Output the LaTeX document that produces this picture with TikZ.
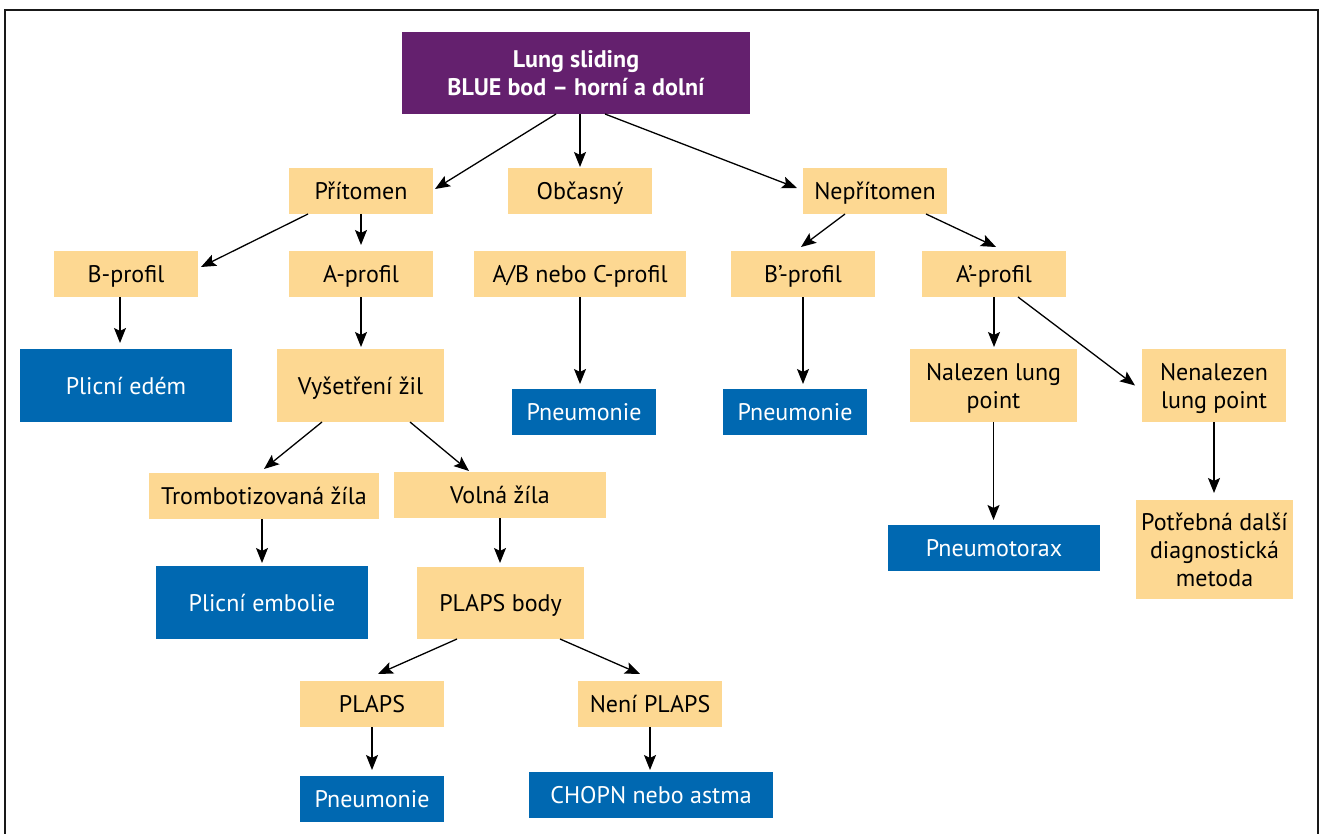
\documentclass[tikz,border=0pt]{standalone}
\usepackage{fontspec}
\setmainfont{PT Sans}
\usetikzlibrary{arrows.meta,calc}
\definecolor{purp}{HTML}{64206E}
\definecolor{ylw}{HTML}{FDD892}
\definecolor{blu}{HTML}{0068B1}
\begin{document}
\begin{tikzpicture}[x=1pt,y=-1pt,
  box/.style={inner sep=0pt, outer sep=0pt, align=center, font=\fontsize{24}{28}\selectfont, text depth=0pt},
  one/.style={text height=17pt},
  ybox/.style={box, fill=ylw, text=black},
  bbox/.style={box, fill=blu, text=white},
  sz/.style 2 args={minimum width=#1pt, minimum height=#2pt},
  arr/.style={line width=1.3pt, -{Stealth[length=15pt,width=12pt,inset=3pt]}}]
\useasboundingbox (0,0) rectangle (1322,834);
\fill[white] (0,0) rectangle (1322,834);
\draw[line width=1.3pt, draw=black!90] (5,834) -- (5,10) -- (1318,10) -- (1318,834);

\node[box, fill=purp, text=white, font=\fontsize{24}{28}\selectfont\bfseries, sz={348}{82}] (top) at (576,73) {Lung sliding\\BLUE bod – horní a dolní};

\node[ybox, one, sz={144}{46}] (pritomen) at (361,191) {Přítomen};
\node[ybox, one, sz={144}{46}] (obc) at (580,191) {Občasný};
\node[ybox, one, sz={144}{46}] (nep) at (875,191) {Nepřítomen};

\node[ybox, one, sz={144}{46}] (bprof) at (126,274) {B-profil};
\node[ybox, one, sz={144}{46}] (aprof) at (361,274) {A-profil};
\node[ybox, one, sz={212}{46}] (ab) at (580,274) {A/B nebo C-profil};
\node[ybox, one, sz={144}{46}] (bp) at (803,274) {B’-profil};
\node[ybox, one, sz={144}{46}] (ap) at (994,274) {A’-profil};

\node[bbox, one, sz={212}{73}] (edem) at (126,385.5) {Plicní edém};
\node[ybox, one, sz={167}{73}] (vys) at (360.5,385.5) {Vyšetření žil};
\node[bbox, one, sz={144}{46}] (pn1) at (584,412) {Pneumonie};
\node[bbox, one, sz={144}{46}] (pn2) at (795,412) {Pneumonie};
\node[ybox, sz={167}{73}] (nal) at (993.5,385.5) {Nalezen lung\\point};
\node[ybox, sz={144}{73}] (nenal) at (1214,385.5) {Nenalezen\\lung point};

\node[ybox, one, sz={230}{46}] (tromb) at (264,496) {Trombotizovaná žíla};
\node[ybox, one, sz={212}{46}] (volna) at (500,495) {Volná žíla};
\node[bbox, one, sz={212}{46}] (ptx) at (994,548) {Pneumotorax};
\node[ybox, sz={157}{99}] (potr) at (1214.5,549.5) {Potřebná další\\diagnostická\\metoda};

\node[bbox, one, sz={212}{73}] (emb) at (262,602.5) {Plicní embolie};
\node[ybox, one, sz={167}{72}] (pb) at (500.5,603) {PLAPS body};

\node[ybox, one, sz={144}{46}] (plaps) at (372,704) {PLAPS};
\node[ybox, one, sz={144}{46}] (neni) at (650,704) {Není PLAPS};

\node[bbox, one, sz={144}{46}] (pn3) at (372,799) {Pneumonie};
\node[bbox, one, sz={244}{46}] (chopn) at (651,795) {CHOPN nebo astma};

% connectors
\draw[arr] ([xshift=-20pt]top.south) -- ([xshift=2pt,yshift=2pt]pritomen.east);
\draw[arr, shorten >=1pt] (top.south -| obc.north) -- (obc.north);
\draw[arr] ([xshift=29pt]top.south) -- ([xshift=-6pt,yshift=3pt]nep.west);

\draw[arr] ([xshift=-53pt]pritomen.south) -- ([xshift=3pt,yshift=7pt]bprof.east);
\draw[arr] (pritomen.south) -- ([yshift=6pt]aprof.north);
\draw[arr] ([xshift=-30pt]nep.south) -- ([xshift=-2pt,yshift=4pt]bp.north);
\draw[arr] ([xshift=51pt]nep.south) -- ([xshift=2pt,yshift=4pt]ap.north);

\draw[arr, shorten >=5pt] (ab.south) -- (ab.south |- pn1.north);
\draw[arr, shorten >=5pt] (bp.south) -- (bp.south |- pn2.north);
\draw[arr, shorten >=2pt] (ap.south) -- (ap.south |- nal.north);
\draw[arr] ([xshift=24pt]ap.south) -- ([xshift=-7pt]nenal.west);

\draw[arr] ([xshift=-6pt]bprof.south) -- ([xshift=-6pt,yshift=6pt]edem.north);
\draw[arr, shorten >=2pt] (aprof.south) -- (aprof.south |- vys.north);
\draw[arr] ([xshift=-38.5pt]vys.south) -- ([yshift=4pt]tromb.north);
\draw[arr] ([xshift=49.5pt]vys.south) -- ([xshift=-31pt,yshift=1pt]volna.north);

\draw[arr, shorten >=3pt] ([xshift=-2pt]tromb.south) -- (emb.north);
\draw[arr, shorten >=4pt] (volna.south) -- (volna.south |- pb.north);
\draw[arr] ([xshift=-43.5pt]pb.south) -- ([xshift=6pt,yshift=7pt]plaps.north);
\draw[arr] ([xshift=59.5pt]pb.south) -- ([xshift=-10pt,yshift=7pt]neni.north);

\draw[arr, shorten >=6pt] (plaps.south) -- (plaps.south |- pn3.north);
\draw[arr, shorten >=2pt] (neni.south) -- (neni.south |- chopn.north);
\draw[arr, shorten >=5pt] (nal.south) -- (nal.south |- ptx.north);
\draw[arr, shorten >=7pt] (nenal.south) -- (nenal.south |- potr.north);
\end{tikzpicture}
\end{document}
